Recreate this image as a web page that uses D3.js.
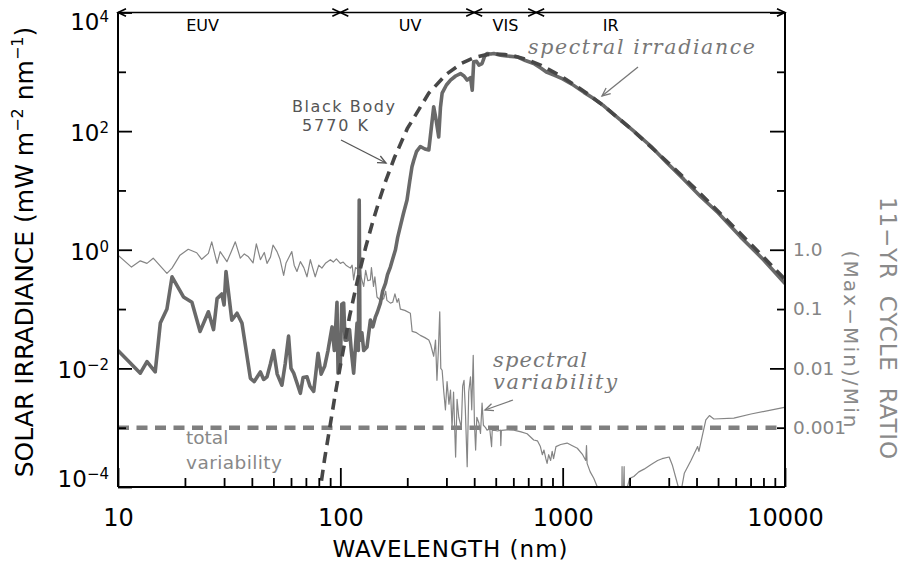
<!DOCTYPE html>
<html><head><meta charset="utf-8">
<script src="https://cdn.jsdelivr.net/npm/d3@7"></script>
<style>
html,body{margin:0;padding:0;background:#fff;}
svg{display:block;}
text{white-space:pre;}
</style></head><body>
<svg id="chart" width="903" height="567"></svg>
<script>
// ---------------- data (wavelength nm, value) ----------------
// Solar spectral irradiance, mW m^-2 nm^-1
const irradiance = [
[10,0.020],[12.6,0.0083],[13.5,0.013],[14.7,0.0087],[15.5,0.058],[16.6,0.10],[17.5,0.35],
[19.7,0.16],[21.5,0.13],[23.4,0.042],[25.5,0.090],[26.9,0.045],[27.9,0.15],[29.3,0.18],
[30.0,0.117],[30.6,0.43],[32.5,0.065],[34.3,0.085],[36.1,0.058],[39.4,0.0068],[41.0,0.0060],
[43.7,0.0087],[45.2,0.0065],[46.8,0.0072],[48.5,0.012],[50.1,0.020],[52,0.008],[54.6,0.0052],
[56.5,0.012],[58.5,0.035],[60,0.010],[61.7,0.0083],[63.5,0.006],[66.1,0.0038],[68,0.007],
[70.8,0.0072],[73,0.005],[75.9,0.0041],[77.5,0.008],[79.4,0.018],[82,0.008],[85.1,0.011],
[88,0.020],[91.8,0.050],[94,0.020],[96.6,0.13],[97.7,0.0083],[100,0.012],[101.5,0.12],
[103.5,0.126],[105,0.030],[107.2,0.030],[110,0.045],[112,0.020],[114.8,0.0083],[118.9,0.058],
[120.5,0.020],[121.6,6.9],[122.5,0.030],[125,0.040],[127.4,0.020],[131.8,0.023],[136.5,0.065],
[140,0.050],[143.9,0.074],[147,0.090],[151.4,0.126],[155,0.20],[159.6,0.27],[163,0.38],
[167.9,0.51],[172,0.70],[177,1.0],[181,1.6],[186,2.45],[192,4.0],[199.5,6.9],[205,14],
[210,25],[213.8,32],[220,45],[229,55],[240,50],[250,48],[257,120],[263,257],[270,150],
[277,80],[282,250],[287,437],[300,600],[313,724],[330,850],[347,933],[360,850],[372,724],
[385,800],[392,490],[398,1480],[410,1500],[420,1300],[434,1380],[445,1800],[457,2040],
[475,2000],[490,2040],[525,1900],[560,1850],[625,1780],[680,1550],[741,1380],[800,1150],
[851,977],[920,870],[1000,760],[1100,620],[1247,450],[1400,340],[1535,265],[1800,160],
[2089,100],[2500,55],[2951,29],[3500,15.5],[4169,7.9],[5000,4.2],[6310,1.65],[8000,0.68],
[10000,0.27]
];
// Black body 5770 K, mW m^-2 nm^-1
const blackBody = [
[78,3.2e-5],[80,6.2e-5],[85,3.0e-4],[90,1.1e-3],[95,3.8e-3],[100,0.011],[110,0.075],
[120,0.33],[130,1.1],[140,3.0],[150,7.0],[160,14.5],[175,35.5],[200,110],[250,437],[300,912],
[350,1380],[400,1740],[450,1930],[500,2000],[550,1950],[600,1860],[700,1580],[800,1290],
[1000,813],[1250,468],[1500,282],[2000,115],[3000,28.8],[4000,10.2],[5000,4.47],[7000,1.26],
[10000,0.316]
];
// 11-yr cycle ratio (Max-Min)/Min
const variability = [
[10,0.81],[11.5,0.51],[12.6,0.65],[13.5,0.59],[14.4,0.72],[16.6,0.40],[17.5,0.49],[19.0,0.81],
[20.7,1.02],[22.6,0.89],[23.8,0.69],[25.5,0.87],[26.4,1.36],[27.9,0.59],[28.8,0.93],[30.9,0.63],
[32.2,0.90],[33.7,1.36],[35.5,0.72],[37,0.85],[38.6,0.76],[40.5,0.60],[41.9,1.26],[43.7,0.68],
[45.5,0.90],[46.8,0.59],[48.5,0.75],[49.8,1.20],[51.9,0.93],[53.5,0.70],[55.6,0.37],[57,0.60],
[60.5,0.93],[62,0.55],[63.8,0.43],[66.1,0.63],[68.5,0.50],[70.8,0.35],[73.3,0.68],[75,0.50],
[77.1,0.35],[80,0.55],[82.6,0.49],[86,0.60],[90.2,0.68],[93,0.62],[96,0.70],[100,0.59],
[103,0.62],[106,0.55],[110.9,0.49],[113,0.55],[114.8,0.31],[117,0.50],[120.8,0.46],[122,0.70],
[124,0.35],[127.4,0.24],[130,0.45],[133,0.30],[136.5,0.31],[138,0.50],[141,0.24],[143,0.35],
[146.2,0.16],[151.4,0.14],[156.7,0.15],[160,0.20],[162,0.14],[168,0.126],[172,0.13],[176,0.18],
[180,0.13],[182.8,0.15],[186.2,0.10],[195,0.095],[206.5,0.085],[210.4,0.042],[220,0.040],
[229,0.036],[240,0.033],[250,0.030],[255,0.025],[263,0.016],[268,0.030],[272,0.0063],[276,0.020],
[280,0.090],[283,0.010],[287,0.0093],[292,0.004],[297,0.0020],[302,0.006],[308,0.0025],
[313,0.0043],[318,0.001],[323,0.004],[330,0.00032],[335,0.003],[341,0.0015],[350,0.001],
[355,0.005],[360,0.0063],[365,0.002],[372,0.00022],[378,0.004],[385,0.0072],[390,0.002],
[396,0.0166],[401,0.0012],[406,0.00042],[411,0.0015],[420,0.0012],[427,0.0008],[434,0.0026],
[440,0.0011],[450,0.001],[457,0.00091],[470,0.00095],[479,0.00048],[482,0.0009],[490,0.00091],
[510,0.00088],[525,0.00091],[527,0.0005],[530,0.0009],[560,0.00092],[603,0.00091],[650,0.00085],
[692,0.00079],[741,0.00062],[770,0.0006],[794,0.00048],[810,0.00035],[824,0.00042],[840,0.0003],
[851,0.00025],[865,0.00035],[883,0.00028],[897,0.0004],[910,0.0003],[933,0.00048],[980,0.00052],
[1047,0.00055],[1100,0.0005],[1164,0.00045],[1230,0.00035],[1270,0.00028],[1280,0.0005],
[1288,0.00025],[1330,0.00018],[1380,0.00014],[1432,0.0001],[1479,0.00004],[1840,0.00003],
[1850,0.00022],[1860,0.00003],[1890,0.00022],[1900,0.00004],[1955,0.0001],[2000,0.00014],
[2089,0.00015],[2200,0.00018],[2323,0.0002],[2500,0.00024],[2673,0.00028],[2800,0.0003],
[3013,0.00032],[3119,0.00023],[3250,0.00013],[3311,0.0001],[3350,0.00004],[3400,0.00008],
[3524,0.00017],[3776,0.00028],[4046,0.00048],[4100,0.0004],[4266,0.00079],[4406,0.00135],
[4571,0.0016],[4786,0.0014],[5888,0.00145],[7031,0.0017],[9931,0.0022]
];
const totalVariability = 0.001;
const regionEdges = [10, 100, 400, 760, 10000];
const regionNames = ["EUV", "UV", "VIS", "IR"];
const regionLabelAt = [24, 206, 553, 1644];
const xMajorTicks = [10, 100, 1000, 10000];
const yMajorTicks = [1e-4, 1e-2, 1, 1e2, 1e4];
const yMinorTicks = [1e-3, 1e-1, 10, 1e3];
const ratioLabels = [[1, "1.0"], [0.1, "0.1"], [0.01, "0.01"], [0.001, "0.001"]];

// ---------------- layout ----------------
const L = 118, R = 785, T = 12.5, B = 487;
const FONT = "DejaVu Sans, Verdana, sans-serif";
const x = d3.scaleLog().domain([10, 10000]).range([L, R]);
const y = d3.scaleLog().domain([1e-4, 1e4]).range([B, T]);
const svg = d3.select("#chart");

svg.append("defs").append("clipPath").attr("id", "clip")
  .append("rect").attr("x", L).attr("y", T).attr("width", R - L).attr("height", B - T);

const plot = svg.append("g").attr("clip-path", "url(#clip)");
const line = d3.line().x(d => x(d[0])).y(d => y(d[1]));

plot.append("line")
  .attr("x1", x(10)).attr("x2", x(10000))
  .attr("y1", y(totalVariability)).attr("y2", y(totalVariability))
  .attr("stroke", "#7f7f7f").attr("stroke-width", 4.6).attr("stroke-dasharray", "11,7.5");

plot.append("path").datum(variability).attr("d", line)
  .attr("fill", "none").attr("stroke", "#858585").attr("stroke-width", 1.2).attr("stroke-linejoin", "round");

plot.append("path").datum(irradiance).attr("d", line)
  .attr("fill", "none").attr("stroke", "#696969").attr("stroke-width", 3.6).attr("stroke-linejoin", "round");

plot.append("path").datum(blackBody).attr("d", line)
  .attr("fill", "none").attr("stroke", "#474747").attr("stroke-width", 3.6).attr("stroke-dasharray", "11,7");

// ---------------- axes ----------------
function styleAxis(g, size, color) {
  g.select(".domain").remove();
  g.attr("font-family", FONT).attr("font-size", size);
  g.selectAll(".tick line").attr("stroke", "#000").attr("stroke-width", 1.8);
  g.selectAll(".tick text").attr("fill", color);
}
const xMinor = x.ticks().filter(v => !xMajorTicks.includes(v));
const gxm = svg.append("g").attr("transform", `translate(0,${B})`)
  .call(d3.axisBottom(x).tickValues(xMinor).tickSize(-9).tickFormat(""));
styleAxis(gxm, 24, "#000");
const gx = svg.append("g").attr("transform", `translate(0,${B})`)
  .call(d3.axisBottom(x).tickValues(xMajorTicks).tickSize(-19).tickPadding(22).tickFormat(d3.format("d")));
styleAxis(gx, 24, "#000");

const gym = svg.append("g").attr("transform", `translate(${L},0)`)
  .call(d3.axisLeft(y).tickValues(yMinorTicks).tickSize(-8).tickFormat(""));
styleAxis(gym, 23, "#000");
const gy = svg.append("g").attr("transform", `translate(${L},0)`)
  .call(d3.axisLeft(y).tickValues(yMajorTicks).tickSize(-14).tickPadding(9).tickFormat(""));
styleAxis(gy, 23, "#000");
gy.selectAll(".tick text").each(function (d) {
  const t = d3.select(this);
  const e = Math.round(Math.log10(d));
  t.text(null);
  t.attr("y", d === 1e4 ? 10 : (d === 1e-4 ? -8 : 2));
  t.append("tspan").text("10");
  t.append("tspan").attr("dy", -8).attr("font-size", 15).text(String(e).replace("-", "\u2212"));
});

const labelFor = v => { const m = ratioLabels.find(r => Math.abs(r[0] - v) / v < 1e-6); return m ? m[1] : ""; };
const gr1 = svg.append("g").attr("transform", `translate(${R},0)`)
  .call(d3.axisRight(y).tickValues(yMajorTicks.slice(1)).tickSize(-15).tickPadding(8).tickFormat(labelFor));
styleAxis(gr1, 18.5, "#858585");
const gr2 = svg.append("g").attr("transform", `translate(${R},0)`)
  .call(d3.axisRight(y).tickValues(yMinorTicks).tickSize(-8).tickPadding(8).tickFormat(labelFor));
styleAxis(gr2, 18.5, "#858585");

// frame
const frame = svg.append("g").attr("stroke", "#000").attr("stroke-width", 2).attr("fill", "none");
frame.append("line").attr("x1", L).attr("x2", L).attr("y1", T).attr("y2", B);
frame.append("line").attr("x1", L).attr("x2", R).attr("y1", B).attr("y2", B);
frame.append("line").attr("x1", R).attr("x2", R).attr("y1", T).attr("y2", B);

// region arrows on top
const topG = svg.append("g").attr("stroke", "#000").attr("stroke-width", 1.6).attr("fill", "none");
topG.append("line").attr("x1", L).attr("x2", R).attr("y1", T).attr("y2", T);
regionEdges.forEach((e, i) => {
  const px = x(e);
  if (i > 0) topG.append("path").attr("d", `M${px - 8},${T - 3.8}L${px},${T}L${px - 8},${T + 3.8}`);
  if (i < regionEdges.length - 1) topG.append("path").attr("d", `M${px + 8},${T - 3.8}L${px},${T}L${px + 8},${T + 3.8}`);
});
regionNames.forEach((n, i) => {
  svg.append("text").attr("x", x(regionLabelAt[i])).attr("y", 31).attr("text-anchor", "middle")
    .attr("font-family", FONT).attr("font-size", 16).attr("fill", "#000").text(n);
});

// axis titles
svg.append("text").attr("x", 450).attr("y", 557).attr("text-anchor", "middle")
  .attr("font-family", FONT).attr("font-size", 23).attr("fill", "#000")
  .attr("textLength", 235).attr("lengthAdjust", "spacing").text("WAVELENGTH (nm)");

const yl = svg.append("text").attr("transform", "translate(33,252) rotate(-90)").attr("text-anchor", "middle")
  .attr("font-family", FONT).attr("font-size", 25).attr("fill", "#000");
yl.append("tspan").text("SOLAR IRRADIANCE (mW m");
yl.append("tspan").attr("dy", -10).attr("font-size", 16).text("\u22122");
yl.append("tspan").attr("dy", 10).text(" nm");
yl.append("tspan").attr("dy", -10).attr("font-size", 16).text("\u22121");
yl.append("tspan").attr("dy", 10).text(")");

svg.append("text").attr("transform", "translate(880,328) rotate(90)").attr("text-anchor", "middle")
  .attr("font-family", FONT).attr("font-size", 23).attr("fill", "#8a8a8a")
  .attr("textLength", 262).attr("lengthAdjust", "spacing").text("11\u2212YR  CYCLE  RATIO");
svg.append("text").attr("transform", "translate(844,339) rotate(90)").attr("text-anchor", "middle")
  .attr("font-family", FONT).attr("font-size", 20).attr("fill", "#8a8a8a")
  .attr("textLength", 177).attr("lengthAdjust", "spacing").text("(Max\u2212Min)/Min");

// annotations
function arrow(x1, y1, x2, y2, color) {
  const g = svg.append("g").attr("stroke", color).attr("stroke-width", 1.3).attr("fill", "none");
  g.append("line").attr("x1", x1).attr("y1", y1).attr("x2", x2).attr("y2", y2);
  const a = Math.atan2(y2 - y1, x2 - x1), s = 9, sp = 0.42;
  g.append("path").attr("d",
    `M${x2 - s * Math.cos(a - sp)},${y2 - s * Math.sin(a - sp)}L${x2},${y2}L${x2 - s * Math.cos(a + sp)},${y2 - s * Math.sin(a + sp)}`);
}
svg.append("text").attr("x", 292).attr("y", 112).attr("font-family", FONT).attr("font-size", 16)
  .attr("fill", "#555").attr("textLength", 103).attr("lengthAdjust", "spacing").text("Black Body");
svg.append("text").attr("x", 302).attr("y", 131).attr("font-family", FONT).attr("font-size", 16)
  .attr("fill", "#555").attr("textLength", 66).attr("lengthAdjust", "spacing").text("5770 K");
arrow(341, 140, 386, 163, "#555");

const SERIF = "DejaVu Serif, serif";
svg.append("text").attr("x", 528).attr("y", 54).attr("font-family", SERIF).attr("font-style", "italic")
  .attr("font-size", 20.5).attr("fill", "#777").attr("textLength", 227).attr("lengthAdjust", "spacing")
  .text("spectral irradiance");
arrow(638, 67, 602, 96, "#777");

svg.append("text").attr("x", 493).attr("y", 367).attr("font-family", SERIF).attr("font-style", "italic")
  .attr("font-size", 21).attr("fill", "#777").attr("textLength", 94).attr("lengthAdjust", "spacing").text("spectral");
svg.append("text").attr("x", 493).attr("y", 389).attr("font-family", SERIF).attr("font-style", "italic")
  .attr("font-size", 21).attr("fill", "#777").attr("textLength", 124).attr("lengthAdjust", "spacing").text("variability");
arrow(513, 400, 485, 410, "#777");

svg.append("text").attr("x", 186).attr("y", 444).attr("font-family", FONT).attr("font-size", 18.5)
  .attr("fill", "#888").text("total");
svg.append("text").attr("x", 186).attr("y", 469).attr("font-family", FONT).attr("font-size", 18.5)
  .attr("fill", "#888").attr("textLength", 96).attr("lengthAdjust", "spacing").text("variability");
</script>
</body></html>
